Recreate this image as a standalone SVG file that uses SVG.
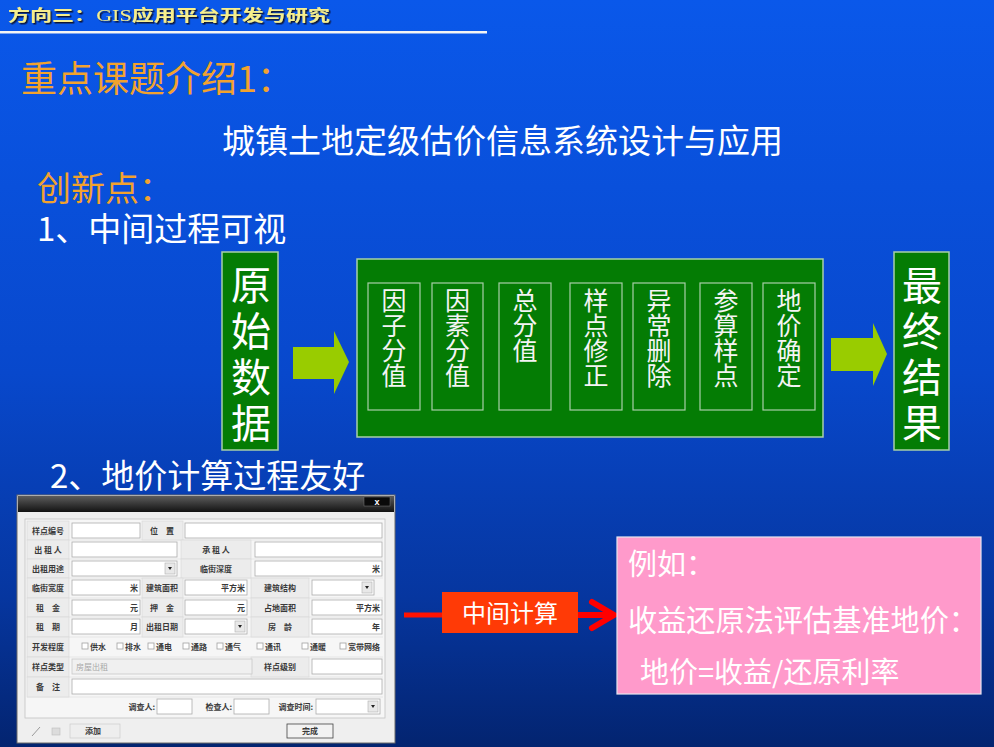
<svg xmlns="http://www.w3.org/2000/svg" width="994" height="747" viewBox="0 0 994 747">
<defs>
<linearGradient id="bg" x1="0" y1="0" x2="0" y2="1">
<stop offset="0" stop-color="#0a58ea"/>
<stop offset="0.5" stop-color="#0848cc"/>
<stop offset="0.8" stop-color="#06369f"/>
<stop offset="1" stop-color="#032470"/>
</linearGradient>
<linearGradient id="tb" x1="0" y1="0" x2="0" y2="1">
<stop offset="0" stop-color="#5c5c5c"/>
<stop offset="1" stop-color="#121212"/>
</linearGradient>
<filter id="sh" x="-5%" y="-30%" width="110%" height="160%">
<feDropShadow dx="1.5" dy="1.5" stdDeviation="0.4" flood-color="#101020" flood-opacity="0.9"/>
</filter>
<style>
.cjk{font-family:"Noto Sans CJK SC","Noto Sans",sans-serif}
.or{fill:#f2a22e}
.wt{fill:#ffffff}
.gbox{fill:#047c04;stroke:#a8cfa8;stroke-width:1.5}
.ibox{fill:none;stroke:#a8cfa8;stroke-width:1.2}
.vt{writing-mode:vertical-rl;glyph-orientation-vertical:0}
.big{font-size:40px;fill:#ffffff;letter-spacing:6px}
.sm{font-size:25px;fill:#f4f4f4}
.garrow{fill:#99cc00}
.fl{font-family:"Noto Sans CJK SC",sans-serif;font-size:8px;font-weight:bold;fill:#3a3a3a}
.fc{text-anchor:middle}
.fe{text-anchor:end}
.cell{fill:#ececec;stroke:#d6d6d6;stroke-width:0.6}
.inp{fill:#ffffff;stroke:#adadad;stroke-width:0.8}
.btn{fill:#e8e8e8;stroke:#b0b0b0;stroke-width:0.6}
.chk{fill:#ffffff;stroke:#a0a0a0;stroke-width:0.8}
.dd{fill:#222}
</style>
</defs>
<rect x="0" y="0" width="994" height="747" fill="url(#bg)"/>

<g id="header">
<text x="8" y="21" class="cjk" font-size="16" font-weight="bold" fill="#f6ee8c" filter="url(#sh)" textLength="322" lengthAdjust="spacingAndGlyphs">方向三：<tspan font-family="Liberation Serif" font-weight="normal">GIS</tspan>应用平台开发与研究</text>
<rect x="0" y="31" width="487" height="2.5" fill="#f4f4f4"/>
</g>

<g id="titles" class="cjk">
<text x="21" y="92" font-size="36" class="or">重点课题介绍1：</text>
<text x="222" y="153" font-size="33" class="wt">城镇土地定级估价信息系统设计与应用</text>
<text x="37" y="201" font-size="34" class="or">创新点：</text>
<text x="37" y="241" font-size="33" class="wt">1、中间过程可视</text>
<text x="50" y="488" font-size="33" class="wt">2、地价计算过程友好</text>
</g>

<g id="connectors">
<polygon class="garrow" points="293,347 334,347 334,331 349,362 334,394 334,379 293,379"/>
<polygon class="garrow" points="831,338 873,338 873,323 887,354 873,386 873,371 831,371"/>
<line x1="404" y1="615" x2="444" y2="615" stroke="#ff1200" stroke-width="5"/>
<line x1="577" y1="615" x2="611" y2="615" stroke="#ff0000" stroke-width="6"/>
<polyline points="592,602 614,615 592,628" fill="none" stroke="#ff0000" stroke-width="6" stroke-linejoin="miter" stroke-linecap="round"/>
</g>

<g id="node-raw" class="cjk">
<rect class="gbox" x="222" y="252" width="56" height="198"/>
<text class="big vt" x="251" y="265">原始数据</text>
</g>

<g id="node-process" class="cjk">
<rect class="gbox" x="357" y="259" width="466" height="178"/>
<g id="step1"><rect class="ibox" x="368" y="283" width="52" height="127"/>
<text class="sm vt" x="394" y="288">因子分值</text></g>
<g id="step2"><rect class="ibox" x="432" y="283" width="51" height="127"/>
<text class="sm vt" x="457.5" y="288">因素分值</text></g>
<g id="step3"><rect class="ibox" x="499" y="283" width="52" height="127"/>
<text class="sm vt" x="525" y="288">总分值</text></g>
<g id="step4"><rect class="ibox" x="570" y="283" width="52" height="127"/>
<text class="sm vt" x="596" y="288">样点修正</text></g>
<g id="step5"><rect class="ibox" x="633" y="283" width="52" height="127"/>
<text class="sm vt" x="659" y="288">异常删除</text></g>
<g id="step6"><rect class="ibox" x="700" y="283" width="52" height="127"/>
<text class="sm vt" x="726" y="288">参算样点</text></g>
<g id="step7"><rect class="ibox" x="763" y="283" width="52" height="127"/>
<text class="sm vt" x="789" y="288">地价确定</text></g>
</g>

<g id="node-result" class="cjk">
<rect class="gbox" x="894" y="252" width="55" height="198"/>
<text class="big vt" x="922" y="265">最终结果</text>
</g>

<g id="form-window">
<rect x="17" y="495" width="378" height="248" fill="#efefef" stroke="#6a6a6a" stroke-width="1"/>
<rect x="18" y="496" width="376" height="16" fill="url(#tb)"/>
<rect x="364" y="497" width="26" height="9" fill="#0a0a0a" stroke="#777" stroke-width="0.5"/>
<text x="377" y="505" font-family="Liberation Sans,sans-serif" font-size="9" font-weight="bold" fill="#ffffff" text-anchor="middle">x</text>
<rect x="25" y="519" width="360" height="199" fill="#f6f6f6" stroke="#c4c4c4" stroke-width="0.8"/>
<g stroke="#dddddd" stroke-width="0.6">
<line x1="27" y1="540" x2="383" y2="540"/><line x1="27" y1="559" x2="383" y2="559"/><line x1="27" y1="578" x2="383" y2="578"/><line x1="27" y1="598" x2="383" y2="598"/><line x1="27" y1="617" x2="383" y2="617"/><line x1="27" y1="637" x2="383" y2="637"/><line x1="27" y1="657" x2="383" y2="657"/><line x1="27" y1="677" x2="383" y2="677"/><line x1="27" y1="697" x2="383" y2="697"/>
</g>
<rect class="cell" x="27" y="521" width="42" height="19"/>
<rect class="cell" x="27" y="540" width="42" height="19"/>
<rect class="cell" x="27" y="559" width="42" height="19"/>
<rect class="cell" x="27" y="578" width="42" height="20"/>
<rect class="cell" x="27" y="598" width="42" height="19"/>
<rect class="cell" x="27" y="617" width="42" height="20"/>
<rect class="cell" x="27" y="637" width="42" height="20"/>
<rect class="cell" x="27" y="657" width="42" height="20"/>
<rect class="cell" x="27" y="677" width="42" height="20"/>
<rect class="cell" x="142" y="521" width="41" height="19"/>
<rect class="cell" x="181" y="540" width="70" height="19"/>
<rect class="cell" x="181" y="559" width="70" height="19"/>
<rect class="cell" x="142" y="578" width="41" height="20"/>
<rect class="cell" x="142" y="598" width="41" height="19"/>
<rect class="cell" x="142" y="617" width="41" height="20"/>
<rect class="cell" x="251" y="578" width="58" height="20"/>
<rect class="cell" x="251" y="598" width="58" height="19"/>
<rect class="cell" x="251" y="617" width="58" height="20"/>
<rect class="cell" x="251" y="657" width="58" height="20"/>
<rect class="inp" x="72" y="523" width="68" height="15"/>
<rect class="inp" x="185" y="523" width="197" height="15"/>
<rect class="inp" x="72" y="542" width="105" height="15"/>
<rect class="inp" x="255" y="542" width="127" height="15"/>
<rect class="inp" x="72" y="561" width="105" height="15"/>
<rect class="btn" x="165" y="563" width="10" height="11"/>
<polygon class="dd" points="168,567 172,567 170,570"/>
<rect class="inp" x="255" y="561" width="127" height="15"/>
<rect class="inp" x="72" y="580" width="68" height="15"/>
<rect class="inp" x="185" y="580" width="62" height="15"/>
<rect class="inp" x="312" y="580" width="62" height="15"/>
<rect class="btn" x="362" y="582" width="10" height="11"/>
<polygon class="dd" points="365,586 369,586 367,589"/>
<rect class="inp" x="72" y="600" width="68" height="15"/>
<rect class="inp" x="185" y="600" width="62" height="15"/>
<rect class="inp" x="312" y="600" width="70" height="15"/>
<rect class="inp" x="72" y="619" width="68" height="15"/>
<rect class="inp" x="185" y="619" width="62" height="15"/>
<rect class="btn" x="235" y="621" width="10" height="11"/>
<polygon class="dd" points="238,625 242,625 240,628"/>
<rect class="inp" x="312" y="619" width="70" height="15"/>
<rect x="72" y="659" width="180" height="15" fill="#f0f0f0" stroke="#c8c8c8" stroke-width="0.8"/>
<rect class="inp" x="312" y="659" width="70" height="15"/>
<rect class="inp" x="72" y="679" width="310" height="15"/>
<rect class="inp" x="157" y="699" width="35" height="15"/>
<rect class="inp" x="234" y="699" width="35" height="15"/>
<rect class="inp" x="316" y="699" width="64" height="15"/>
<rect class="btn" x="368" y="701" width="10" height="11"/>
<polygon class="dd" points="371,705 375,705 373,708"/>
<rect class="chk" x="82" y="643" width="6" height="6"/>
<rect class="chk" x="117" y="643" width="6" height="6"/>
<rect class="chk" x="148" y="643" width="6" height="6"/>
<rect class="chk" x="183" y="643" width="6" height="6"/>
<rect class="chk" x="217" y="643" width="6" height="6"/>
<rect class="chk" x="257" y="643" width="6" height="6"/>
<rect class="chk" x="302" y="643" width="6" height="6"/>
<rect class="chk" x="340" y="643" width="6" height="6"/>
<g class="fl">
<text class="fc" x="48" y="534">样点编号</text>
<text class="fc" x="162" y="534">位　置</text>
<text class="fc" x="48" y="553">出 租 人</text>
<text class="fc" x="216" y="553">承 租 人</text>
<text class="fc" x="48" y="572">出租用途</text>
<text class="fc" x="216" y="572">临街深度</text>
<text class="fe" x="380" y="572">米</text>
<text class="fc" x="48" y="591">临街宽度</text>
<text class="fe" x="138" y="591">米</text>
<text class="fc" x="162" y="591">建筑面积</text>
<text class="fe" x="245" y="591">平方米</text>
<text class="fc" x="280" y="591">建筑结构</text>
<text class="fc" x="48" y="611">租　金</text>
<text class="fe" x="138" y="611">元</text>
<text class="fc" x="162" y="611">押　金</text>
<text class="fe" x="245" y="611">元</text>
<text class="fc" x="280" y="611">占地面积</text>
<text class="fe" x="380" y="611">平方米</text>
<text class="fc" x="48" y="630">租　期</text>
<text class="fe" x="138" y="630">月</text>
<text class="fc" x="162" y="630">出租日期</text>
<text class="fc" x="280" y="630">房　龄</text>
<text class="fe" x="380" y="630">年</text>
<text class="fc" x="48" y="650">开发程度</text>
<text x="90" y="650">供水</text>
<text x="125" y="650">排水</text>
<text x="156" y="650">通电</text>
<text x="191" y="650">通路</text>
<text x="225" y="650">通气</text>
<text x="265" y="650">通讯</text>
<text x="310" y="650">通暖</text>
<text x="348" y="650">宽带网络</text>
<text class="fc" x="48" y="670">样点类型</text>
<text x="76" y="670" fill="#a8a8a8" font-weight="normal">房屋出租</text>
<text class="fc" x="280" y="670">样点级别</text>
<text class="fc" x="48" y="690">备　注</text>
<text class="fe" x="155" y="710">调查人:</text>
<text class="fe" x="232" y="710">检查人:</text>
<text class="fe" x="313" y="710">调查时间:</text>
</g>
<line x1="32" y1="736" x2="40" y2="727" stroke="#9a9a9a" stroke-width="1"/>
<rect x="52" y="728" width="8" height="7" fill="#dcdcdc" stroke="#bdbdbd" stroke-width="0.6"/>
<rect x="70" y="724" width="50" height="14" fill="#eeeeee" stroke="#c6c6c6" stroke-width="0.6"/>
<text class="fl" x="85" y="734">添加</text>
<rect x="287" y="724" width="46" height="14" fill="#f2f2f2" stroke="#444" stroke-width="0.8"/>
<text class="fl fc" x="310" y="734">完成</text>
</g>

<g id="node-calc" class="cjk">
<rect x="442" y="592" width="136" height="41" fill="#ff3a06"/>
<text x="510" y="622" font-size="24" fill="#ffffff" text-anchor="middle">中间计算</text>
</g>

<g id="node-example" class="cjk">
<rect x="617" y="537" width="364" height="157" fill="#ff9acb" stroke="#e6e6f0" stroke-width="1.2"/>
<text x="628" y="575" font-size="29" fill="#ffffff">例如：</text>
<text x="628" y="631" font-size="30" fill="#ffffff" textLength="350" lengthAdjust="spacingAndGlyphs">收益还原法评估基准地价：</text>
<text x="640" y="683" font-size="29" fill="#ffffff">地价=收益/还原利率</text>
</g>
</svg>
